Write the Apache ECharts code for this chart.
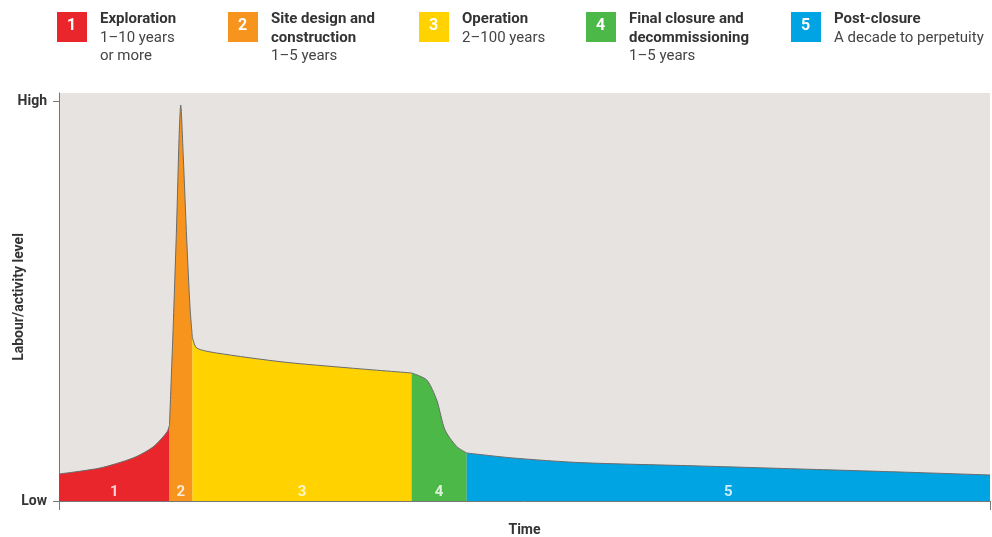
<!DOCTYPE html>
<html>
<head>
<meta charset="utf-8">
<script src="https://cdn.jsdelivr.net/npm/echarts@6/dist/echarts.min.js"></script>
<style>
	html, body { margin: 0; padding: 0; background: #fff; }
	#main { width: 992px; height: 537px; }
</style>
</head>
<body>
<div id="main"></div>
<script>
// phases of the mine life cycle
var phaseNums = ['1', '2', '3', '4', '5'];
var phaseColors = ['#e8262b', '#f7941d', '#ffd200', '#4cb848', '#00a4e2'];
var phaseTitles = [['Exploration'], ['Site design and', 'construction'], ['Operation'], ['Final closure and', 'decommissioning'], ['Post-closure']];
var phaseSpans = [['1\u201310 years', 'or more'], ['1\u20135 years'], ['2\u2013100 years'], ['1\u20135 years'], ['A decade to perpetuity']];
// boundaries between phases on the time axis (0 - 100)
var phaseBounds = [0, 11.87, 14.32, 37.88, 43.79, 100];

// labour / activity curve (0 = Low, 100 = High)
var timeX = [0, 4.4, 7.95, 10.1, 11.6, 11.87,
	12.28, 12.64, 12.89, 13.07, 13.35, 13.72, 14.07, 14.32,
	14.79, 16.94, 24.06, 31.26, 37.88,
	39.5, 40.57, 41.46, 42.72, 43.79,
	48.76, 55.96, 68.85, 79.6, 90.33, 100];
var level = [6.75, 8.25, 10.75, 13.5, 17.25, 19,
	44.5, 69.5, 90.25, 99, 86, 65.25, 48.5, 41,
	38.25, 37, 34.75, 33.25, 32,
	30.25, 25.25, 17.75, 13.6, 12,
	10.75, 9.6, 8.75, 8, 7.25, 6.5];

var chart = echarts.init(document.getElementById('main'));
var font = 'Roboto, "DejaVu Sans", sans-serif';

var series = [];
var labelPts = [];
for (var p = 0; p < phaseNums.length; p++) {
	var lo = phaseBounds[p], hi = phaseBounds[p + 1];
	var pts = [];
	for (var i = 0; i < timeX.length; i++) {
		if (timeX[i] >= lo - 1e-6 && timeX[i] <= hi + 1e-6) {
			pts.push([timeX[i], level[i]]);
		}
	}
	labelPts.push({ value: [(lo + hi) / 2, 0], name: phaseNums[p] });
	series.push({
		type: 'line',
		data: pts,
		symbol: 'none',
		smooth: 0.25,
		lineStyle: { color: '#6b6b6b', width: 1 },
		areaStyle: { color: phaseColors[p], opacity: 1 },
		z: 2
	});
}

// phase numbers along the bottom
series.push({
	type: 'scatter',
	data: labelPts,
	symbolSize: 1,
	itemStyle: { color: 'rgba(0,0,0,0)' },
	silent: true,
	z: 5,
	label: {
		show: true,
		position: 'top',
		distance: 1,
		formatter: '{b}',
		color: '#fff',
		fontWeight: 'bold',
		fontSize: 15,
		fontFamily: font
	}
});

// legend drawn with graphic elements
var legendX = [57, 228, 419, 586, 791];
var graphics = [];
for (var k = 0; k < phaseNums.length; k++) {
	graphics.push({
		type: 'rect',
		left: legendX[k], top: 12,
		shape: { width: 30, height: 30 },
		style: { fill: phaseColors[k] }
	});
	graphics.push({
		type: 'text',
		left: legendX[k] + 10, top: 18,
		style: { text: phaseNums[k], fill: '#fff', font: 'bold 16px ' + font }
	});
	var rich = phaseTitles[k].map(function(t) { return '{b|' + t + '}'; })
		.concat(phaseSpans[k].map(function(t) { return '{n|' + t + '}'; }));
	graphics.push({
		type: 'text',
		left: legendX[k] + 43, top: 12,
		style: {
			text: rich.join('\n'),
			rich: {
				b: { font: 'bold 15px ' + font, fill: '#333', lineHeight: 18.5 },
				n: { font: '15px ' + font, fill: '#444', lineHeight: 18.5 }
			}
		}
	});
}

var option = {
	animation: false,
	grid: {
		left: 59, right: 2, top: 93, bottom: 36,
		outerBoundsMode: 'none',
		containLabel: false,
		show: true,
		backgroundColor: '#e6e3e1',
		borderWidth: 0
	},
	xAxis: {
		type: 'value',
		min: 0, max: 100,
		name: 'Time',
		nameLocation: 'middle',
		nameGap: 22,
		nameMoveOverlap: false,
		nameTextStyle: { color: '#333', fontWeight: 'bold', fontSize: 14, fontFamily: font },
		splitLine: { show: false },
		axisLine: { show: true, lineStyle: { color: '#777', width: 1 } },
		axisTick: { show: true, customValues: [0, 100], length: 9, lineStyle: { color: '#777' } },
		axisLabel: { show: false }
	},
	yAxis: {
		type: 'value',
		min: 0, max: 102,
		name: 'Labour/activity level',
		nameLocation: 'middle',
		nameGap: 33,
		nameMoveOverlap: false,
		nameTextStyle: { color: '#333', fontWeight: 'bold', fontSize: 14, fontFamily: font },
		splitLine: { show: false },
		axisLine: { show: true, lineStyle: { color: '#777', width: 1 } },
		axisTick: { show: true, customValues: [0, 100], length: 6, lineStyle: { color: '#777' } },
		axisLabel: {
			customValues: [0, 100],
			formatter: function(v) { return v === 0 ? 'Low' : 'High'; },
			color: '#333', fontWeight: 'bold', fontSize: 14, fontFamily: font, margin: 12
		}
	},
	graphic: graphics,
	series: series
};

chart.setOption(option);
</script>
</body>
</html>
